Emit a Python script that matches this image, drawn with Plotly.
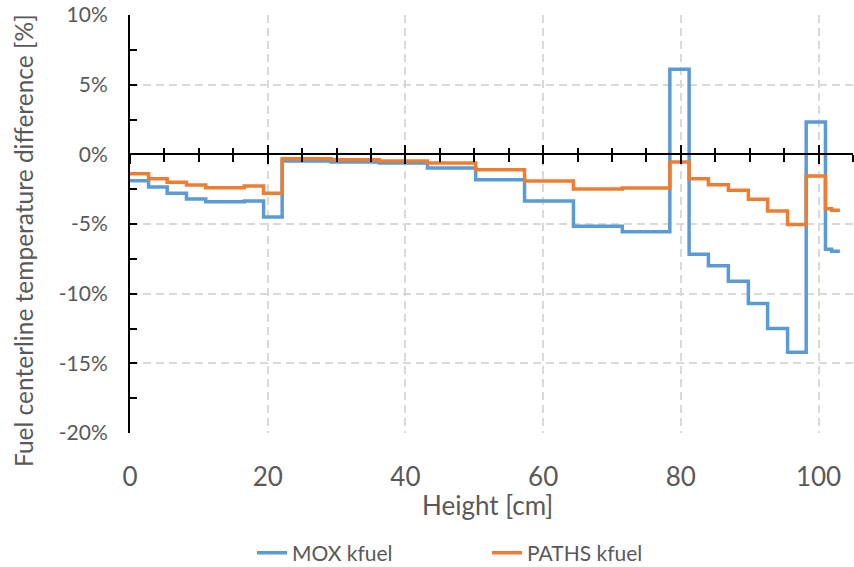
import plotly.graph_objects as go

# Segment edges along the height [cm]
edges = [0, 2.7, 5.4, 8.2, 11.0, 13.8, 16.6, 19.4, 22.1, 29.2, 36.2, 43.2, 50.2,
         57.3, 64.4, 71.5, 78.4, 81.2, 84.0, 86.9, 89.8, 92.6, 95.5, 98.2, 101.0,
         101.9, 103.1]

# Fuel centerline temperature difference [%] per segment
mox_kfuel = [-1.9, -2.35, -2.8, -3.2, -3.4, -3.4, -3.35, -4.5, -0.48, -0.55, -0.62,
             -0.98, -1.82, -3.35, -5.17, -5.55, 6.1, -7.18, -8.0, -9.1, -10.7, -12.5,
             -14.2, 2.32, -6.82, -6.96]
paths_kfuel = [-1.39, -1.75, -2.0, -2.2, -2.4, -2.4, -2.27, -2.8, -0.31, -0.38, -0.48,
               -0.62, -1.1, -1.92, -2.49, -2.42, -0.55, -1.75, -2.18, -2.58, -3.23,
               -4.07, -5.03, -1.56, -3.9, -4.02]

x_ticks = [0, 20, 40, 60, 80, 100]
y_ticks = [10, 5, 0, -5, -10, -15, -20]
y_tick_text = [f"{v}%" for v in y_ticks]

BLUE = "#5B9BD5"
ORANGE = "#ED7D31"
GRID = "#D9D9D9"
TXT = "#595959"
FONT = "Lato"

fig = go.Figure()
fig.add_trace(go.Scatter(x=edges, y=mox_kfuel + [mox_kfuel[-1]], mode="lines",
                         line=dict(color=BLUE, width=3.5, shape="hv"), name="MOX kfuel"))
fig.add_trace(go.Scatter(x=edges, y=paths_kfuel + [paths_kfuel[-1]], mode="lines",
                         line=dict(color=ORANGE, width=3.5, shape="hv"), name="PATHS kfuel"))
# helper traces so the overlaid axes (cross ticks at y=0) get drawn
for ax in ("x2", "x3"):
    fig.add_trace(go.Scatter(x=[None], y=[None], xaxis=ax, showlegend=False,
                             hoverinfo="skip"))

xr = [0, 105]
fig.update_layout(
    width=854, height=567,
    margin=dict(l=130, r=1, t=15, b=134),
    paper_bgcolor="white", plot_bgcolor="white",
    font=dict(family=FONT, color=TXT),
    showlegend=True,
    legend=dict(orientation="h", x=252 / 854, xanchor="left", xref="container",
                y=(567 - 553) / 567, yanchor="middle", yref="container",
                font=dict(size=21, color=TXT, family=FONT),
                entrywidth=190, entrywidthmode="pixels"),
    xaxis=dict(range=xr, tickvals=x_ticks, showgrid=True, gridcolor=GRID,
               gridwidth=2, griddash="8px,5px", showline=False, zeroline=False,
               ticks="", ticklabelstandoff=26,
               tickfont=dict(size=26, color=TXT, family=FONT)),
    xaxis2=dict(range=xr, overlaying="x", anchor="free", position=2 / 3,
                side="bottom", showline=True, linecolor="black", linewidth=2,
                tickmode="linear", tick0=0, dtick=20, ticks="outside", ticklen=9,
                tickwidth=2, tickcolor="black", showticklabels=False,
                showgrid=False, zeroline=False,
                minor=dict(ticks="outside", dtick=5, ticklen=6.5, tickwidth=2,
                           tickcolor="black", showgrid=False)),
    xaxis3=dict(range=xr, overlaying="x", anchor="free", position=2 / 3,
                side="bottom", showline=False,
                tickmode="linear", tick0=0, dtick=20, ticks="inside", ticklen=9,
                tickwidth=2, tickcolor="black", showticklabels=False,
                showgrid=False, zeroline=False,
                minor=dict(ticks="inside", dtick=5, ticklen=6.5, tickwidth=2,
                           tickcolor="black", showgrid=False)),
    yaxis=dict(range=[-20, 10], tickvals=y_ticks, ticktext=y_tick_text,
               showgrid=True, gridcolor=GRID, gridwidth=2, griddash="8px,5px",
               showline=True, linecolor="black", linewidth=2, zeroline=False,
               ticks="inside", ticklen=7, tickwidth=2, tickcolor="black",
               ticklabelstandoff=16,
               minor=dict(ticks="inside", dtick=2.5, ticklen=7, tickwidth=2,
                          tickcolor="black", showgrid=False),
               tickfont=dict(size=21, color=TXT, family=FONT)),
    annotations=[
        dict(text="Height [cm]", xref="paper", yref="paper",
             x=(487 - 130) / 723, y=-(505 - 433) / 418, xanchor="center",
             yanchor="middle", showarrow=False,
             font=dict(size=26, color=TXT, family=FONT)),
        dict(text="Fuel centerline temperature difference [%]", xref="paper",
             yref="paper", x=(23 - 130) / 723, y=(433 - 241) / 418,
             xanchor="center", yanchor="middle", textangle=-90, showarrow=False,
             font=dict(size=24.5, color=TXT, family=FONT)),
    ],
)

fig.write_html("out.html", config={"displayModeBar": False},
               post_script="document.body.style.margin='0';document.body.style.padding='0';")
